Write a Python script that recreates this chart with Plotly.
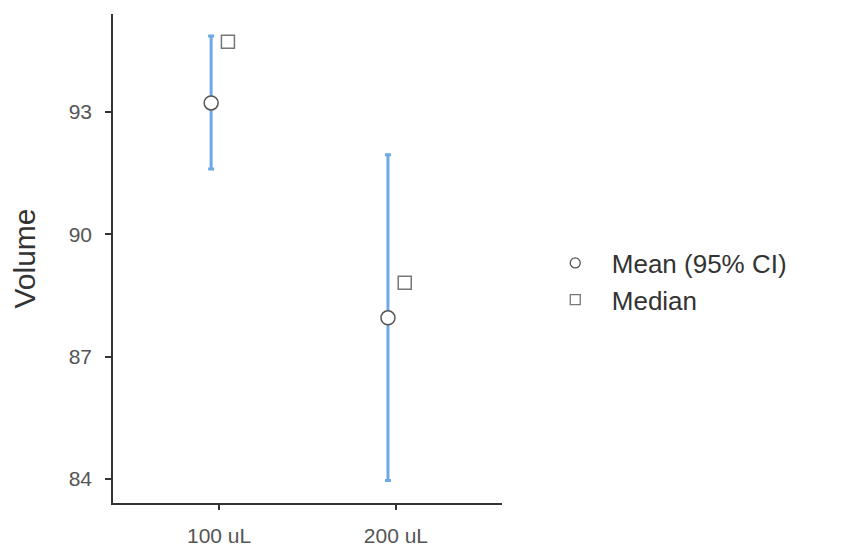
import plotly.graph_objects as go

categories = ["100 uL", "200 uL"]
means = [93.22, 87.95]
ci_lower = [91.60, 83.96]
ci_upper = [94.86, 91.95]
medians = [94.72, 88.81]
y_ticks = [84, 87, 90, 93]
series_names = ["Mean (95% CI)", "Median"]

pos = [i + 1 for i in range(len(categories))]
mean_x = [p - 0.045 for p in pos]
median_x = [p + 0.05 for p in pos]

fig = go.Figure()
fig.add_trace(go.Scatter(
    x=mean_x, y=means, mode="markers", name=series_names[0], showlegend=False,
    marker=dict(symbol="circle", size=14, color="white",
                line=dict(color="#555555", width=1.5)),
    error_y=dict(type="data", symmetric=False,
                 array=[u - m for u, m in zip(ci_upper, means)],
                 arrayminus=[m - l for m, l in zip(means, ci_lower)],
                 color="#6fa8e6", thickness=3, width=3),
))
fig.add_trace(go.Scatter(
    x=median_x, y=medians, mode="markers", name=series_names[1], showlegend=False,
    marker=dict(symbol="square", size=13, color="white",
                line=dict(color="#777777", width=1.5)),
))
# legend entries with smaller symbols
fig.add_trace(go.Scatter(
    x=[None], y=[None], mode="markers", name=series_names[0],
    marker=dict(symbol="circle", size=10, color="white",
                line=dict(color="#555555", width=1.3)),
))
fig.add_trace(go.Scatter(
    x=[None], y=[None], mode="markers", name=series_names[1],
    marker=dict(symbol="square", size=10, color="white",
                line=dict(color="#777777", width=1.3)),
))

fig.update_layout(
    width=845, height=546,
    margin=dict(l=105, r=351, t=6, b=51, autoexpand=False),
    paper_bgcolor="white", plot_bgcolor="white",
    font=dict(family="Liberation Sans, Arial, sans-serif", color="#555555"),
    showlegend=True,
    legend=dict(x=1.0945, xanchor="left", y=0.453, yanchor="middle",
                font=dict(size=26, color="#333333"),
                itemwidth=63, tracegroupgap=0,
                bgcolor="rgba(0,0,0,0)"),
    xaxis=dict(range=[0.4, 2.6], tickvals=pos, ticktext=categories,
               automargin=False,
               showgrid=False, zeroline=False, showline=True,
               linecolor="#333333", linewidth=1.5,
               ticks="outside", ticklen=5, tickwidth=1.5, tickcolor="#333333",
               ticklabelstandoff=8,
               tickfont=dict(size=21, color="#555555")),
    yaxis=dict(range=[83.41, 95.4], tickvals=y_ticks,
               automargin=False,
               showgrid=False, zeroline=False, showline=True,
               linecolor="#333333", linewidth=1.5,
               ticks="outside", ticklen=6, tickwidth=1.5, tickcolor="#333333",
               ticklabelstandoff=9,
               tickfont=dict(size=21, color="#555555"),
               title=dict(text="Volume", font=dict(size=30, color="#333333"),
                          standoff=25)),
)

fig.write_html("out.html")
